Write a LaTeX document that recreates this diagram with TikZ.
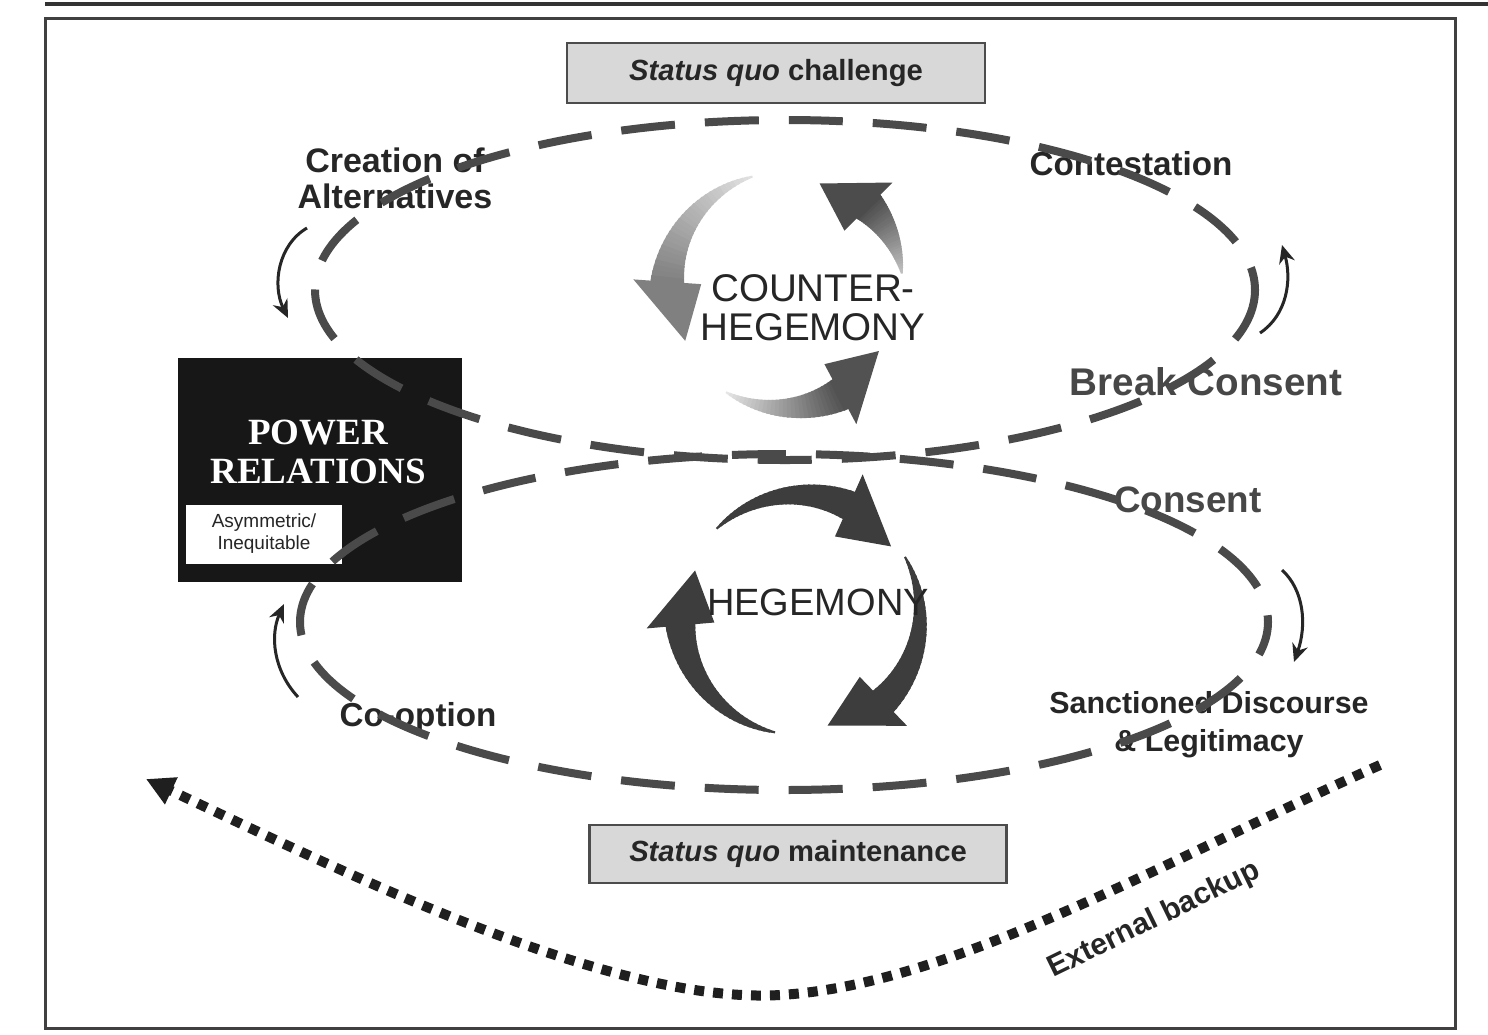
\documentclass[tikz,border=0pt]{standalone}
\usepackage{fontspec}
\setmainfont{Liberation Sans}
\newfontfamily\serifbf{Liberation Serif}
\usetikzlibrary{arrows.meta}
\definecolor{dashc}{HTML}{4A4A4A}
\definecolor{boxgray}{HTML}{D8D8D8}
\definecolor{ink}{HTML}{262626}
\definecolor{powerc}{HTML}{171717}
\newcommand\hw{34}
% #1 cx, #2 cy, #3 R, #4 tail angle, #5 head-base angle, #6 tip angle, #7 body width, #8 tail shade, #9 head shade
\newcommand\cycarrow[9]{%
  \foreach \i in {0,...,29}{%
    \pgfmathsetmacro\ta{#4+(#5-#4)*\i/30}%
    \pgfmathsetmacro\tb{#4+(#5-#4)*(\i+1.4)/30}%
    \pgfmathsetmacro\wa{1+(#7/2-1)*\i/30}%
    \pgfmathsetmacro\wb{1+(#7/2-1)*(\i+1)/30}%
    \pgfmathtruncatemacro\pc{#8+(#9-#8)*\i/29}%
    \fill[black!\pc] ({#1+(#3+\wa)*cos(\ta)},{#2+(#3+\wa)*sin(\ta)}) -- ({#1+(#3+\wb)*cos(\tb)},{#2+(#3+\wb)*sin(\tb)}) -- ({#1+(#3-\wb)*cos(\tb)},{#2+(#3-\wb)*sin(\tb)}) -- ({#1+(#3-\wa)*cos(\ta)},{#2+(#3-\wa)*sin(\ta)}) -- cycle;
  }%
  \fill[black!#9] ({#1+(#3+\hw)*cos(#5)},{#2+(#3+\hw)*sin(#5)}) -- ({#1+(#3-6)*cos(#6)},{#2+(#3-6)*sin(#6)}) -- ({#1+(#3-\hw)*cos(#5)},{#2+(#3-\hw)*sin(#5)}) -- cycle;
}
\begin{document}
\begin{tikzpicture}[x=0.5pt,y=-0.5pt,
  lbl/.style={font=\fontsize{17}{18}\selectfont\bfseries, text=ink, align=center, inner sep=0pt},
  dashell/.style={draw=dashc, line width=4pt, dash pattern=on 27pt off 15pt},
  thinarr/.style={draw=ink, line width=1.5pt, -{Stealth[length=9pt,width=8pt]}},
  sqbox/.style={draw=black!70, fill=boxgray, line width=1.2pt, minimum width=209pt, minimum height=30pt, inner sep=0pt, font=\fontsize{14.6}{16}\selectfont\bfseries, text=ink},
  dotline/.style={draw=black!88, line width=5pt, dash pattern=on 5pt off 4.5pt, -{Triangle[length=14pt,width=14pt]}}
]
\useasboundingbox (0,0) rectangle (1488,1034);
\fill[white] (0,0) rectangle (1488,1034);
\draw[line width=2pt, black!80] (45,4) -- (1488,4);
\draw[line width=1.5pt, black!75] (45,18) rectangle (1455,1028);

% boxes
\node[sqbox] (challenge) at (776,73) {{\itshape Status quo} challenge};
\node[sqbox, minimum width=208.5pt, minimum height=29pt] (maint) at (798,854) {{\itshape Status quo} maintenance};

\node[fill=powerc, minimum width=142pt, minimum height=112pt, inner sep=0pt] (power) at (320,470) {};
\node[font=\serifbf\fontsize{18.5}{19.5}\selectfont\bfseries, text=white, align=center, inner sep=0pt] (powertxt) at (318,452) {POWER\\RELATIONS};
\node[fill=white, minimum width=78pt, minimum height=29.5pt, inner sep=0pt, font=\fontsize{9.5}{11}\selectfont, text=ink, align=center] (asym) at (264,534) {Asymmetric/\\Inequitable};

% counter-hegemony cycle
\cycarrow{785}{290}{118}{-8}{-45}{-72}{34}{25}{70}
\cycarrow{785}{290}{118}{-106}{-176}{-207}{34}{12}{50}
\cycarrow{785}{290}{118}{120}{62}{33}{34}{10}{68}
% hegemony cycle
\cycarrow{800}{615}{120}{-134}{-66}{-37}{30}{76}{76}
\cycarrow{800}{615}{120}{-29}{46}{76}{30}{76}{76}
\cycarrow{800}{615}{120}{102}{175}{203}{30}{76}{76}

\node[font=\fontsize{19.3}{19.5}\selectfont, text=ink, align=center, inner sep=0pt] (counter) at (813,308) {COUNTER-\\HEGEMONY};
\node[font=\fontsize{19}{19.5}\selectfont, text=ink, inner sep=0pt] (hegemony) at (818,602) {HEGEMONY};

% labels
\node[lbl] (creation) at (395,178) {Creation of\\Alternatives};
\node[lbl, font=\fontsize{16.6}{18}\selectfont\bfseries] (contest) at (1131,164) {Contestation};
\node[lbl, font=\fontsize{19.3}{20}\selectfont\bfseries, text=black!72] (break) at (1206,382) {Break Consent};
\node[lbl, font=\fontsize{18.4}{20}\selectfont\bfseries, text=black!72] (consent) at (1188,500) {Consent};
\node[lbl, font=\fontsize{15.2}{19}\selectfont\bfseries] (sanction) at (1209,725) {Sanctioned Discourse\\\& Legitimacy};
\node[lbl, font=\fontsize{16.6}{18}\selectfont\bfseries] (coopt) at (418,718) {Co-option};

% dashed ellipses
\draw[dashell] (785,290) ellipse [x radius=470, y radius=170];
\draw[dashell, dash phase=10pt] (784,622) ellipse [x radius=484, y radius=168];

% thin curved arrows
\coordinate (a1s) at (307,228); \coordinate (a1e) at (288,318);
\coordinate (a2s) at (298,697); \coordinate (a2e) at (284,604);
\coordinate (a3s) at (1260,333); \coordinate (a3e) at (1282,245);
\coordinate (a4s) at (1282,570); \coordinate (a4e) at (1294,662);
\draw[thinarr] (a1s) .. controls (278,245) and (272,285) .. (a1e);
\draw[thinarr] (a2s) .. controls (273,670) and (270,635) .. (a2e);
\draw[thinarr] (a3s) .. controls (1287,315) and (1292,280) .. (a3e);
\draw[thinarr] (a4s) .. controls (1304,590) and (1307,625) .. (a4e);

% external backup
\coordinate (extS) at (1380,765);
\coordinate (extM) at (780,995);
\coordinate (extE) at (146,779);
\draw[dotline] (extS) .. controls (1150,868) and (950,985) .. (extM) .. controls (610,1005) and (340,870) .. (extE);
\node[font=\fontsize{15}{16}\selectfont\bfseries, text=ink, rotate=26, inner sep=0pt] (ext) at (1154,920) {External backup};
\end{tikzpicture}
\end{document}
